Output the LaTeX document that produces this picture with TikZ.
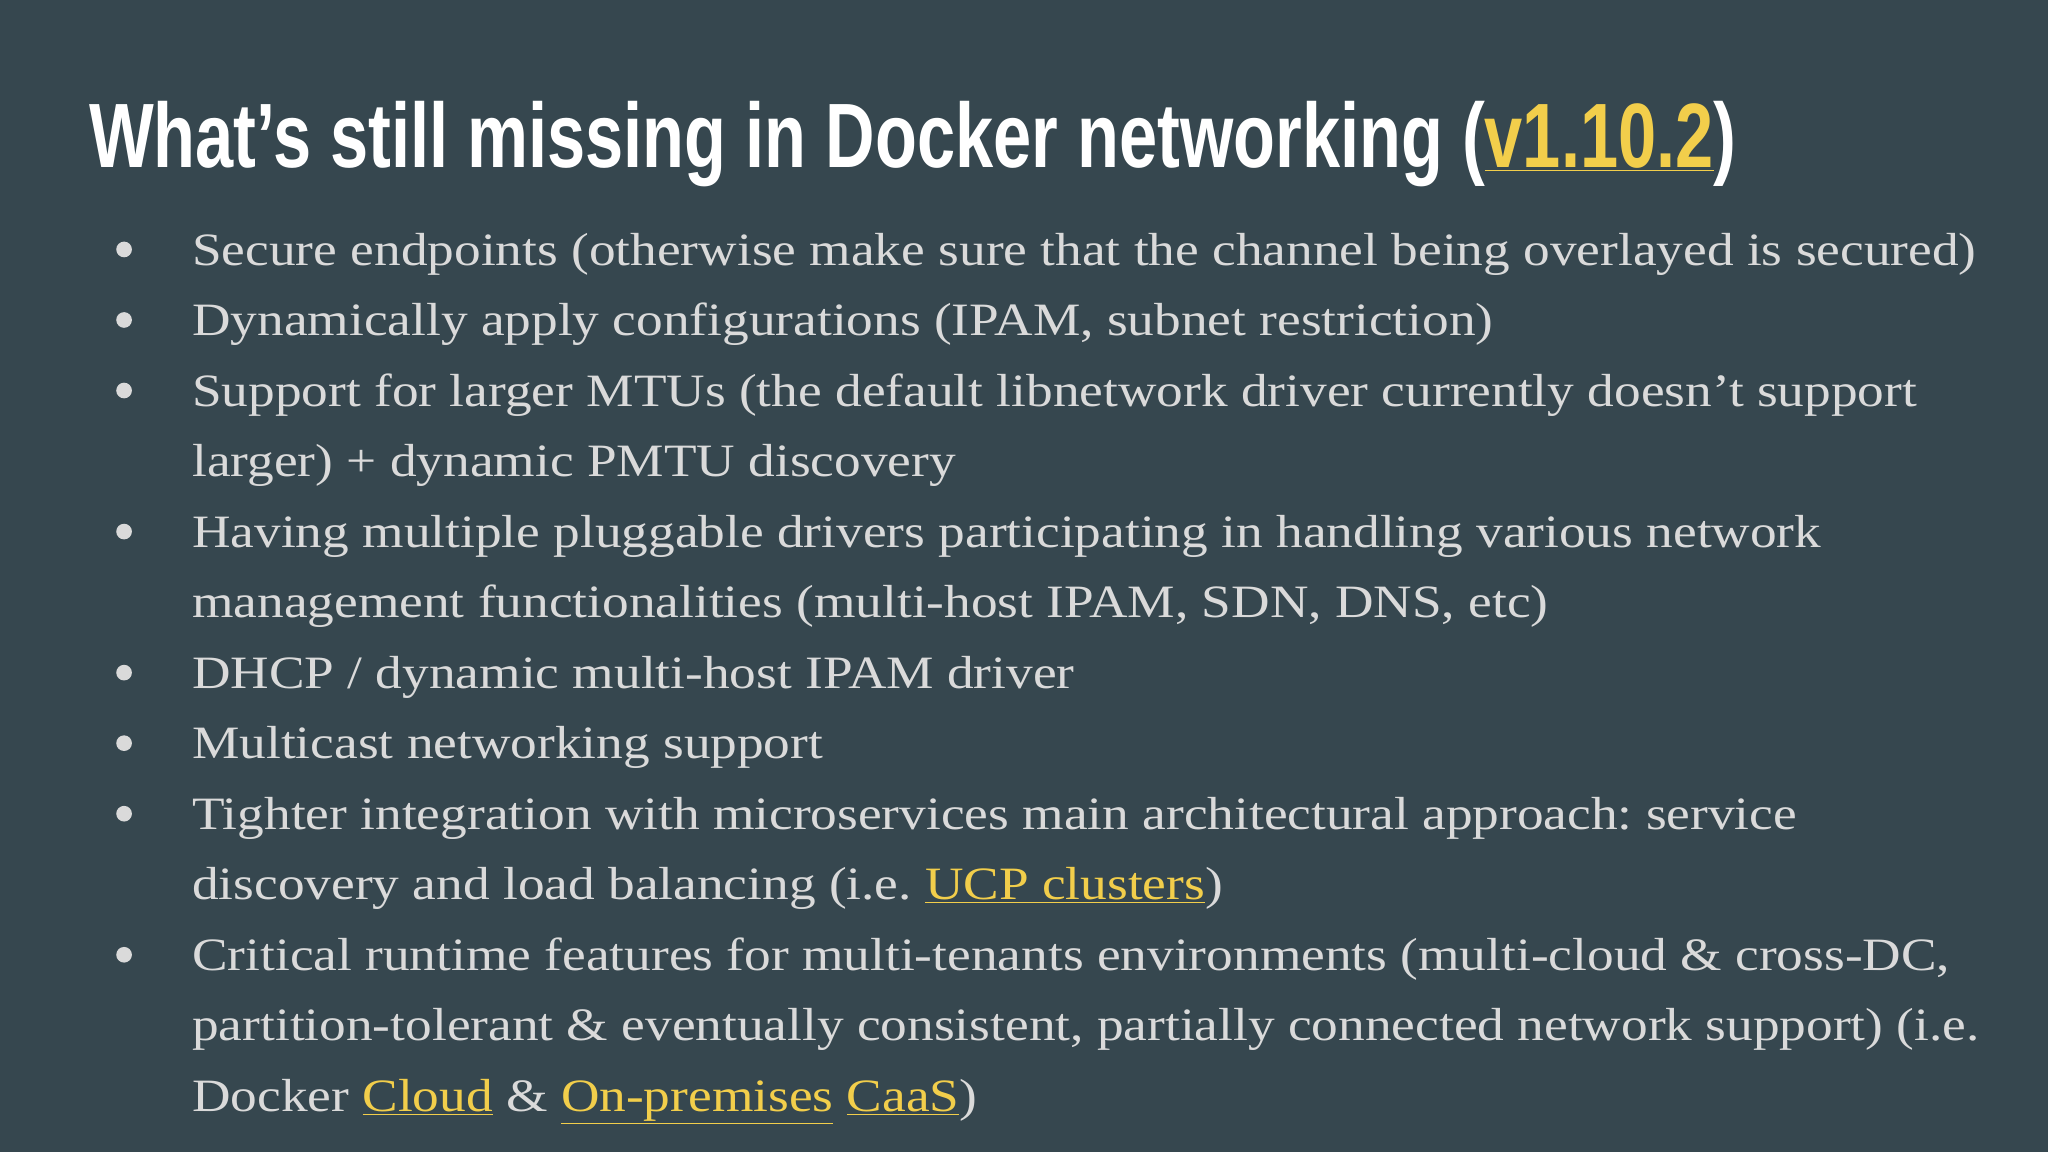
\documentclass[tikz,border=0pt]{standalone}
\usepackage{fontspec}
\setmainfont[FakeStretch=1.15]{Liberation Serif}
\newfontfamily\titlefont[FakeStretch=0.75]{Liberation Sans}
\definecolor{bg}{HTML}{36474F}
\definecolor{txt}{HTML}{DADADA}
\definecolor{lnk}{HTML}{F2CE4B}
\newcommand{\ul}[1]{{\color{lnk}\underline{#1}}}
\frenchspacing
\begin{document}
\begin{tikzpicture}[x=1pt,y=1pt,
  ln/.style={anchor=base west,inner sep=0pt,text=txt,font=\fontsize{35.5}{40}\selectfont},
  bul/.style={fill=txt,circle,inner sep=0pt,minimum size=12pt}]
\fill[bg] (0,0) rectangle (1568,882);
\useasboundingbox (0,0) rectangle (1568,882);
\node[anchor=base west,inner sep=0pt,text=white,font=\titlefont\bfseries\fontsize{70}{80}\selectfont] (title) at (68,754) {What’s still missing in Docker networking (\ul{v1.10.2})};
\foreach \y in {203,257,311,419,527,581,635,743}{\node[bul] at (95,882-\y+12) {};}
\node[ln] (l1) at (147,679) {Secure endpoints (otherwise make sure that the channel being overlayed is secured)};
\node[ln] (l2) at (147,625) {Dynamically apply configurations (IPAM, subnet restriction)};
\node[ln] (l3) at (147,571) {Support for larger MTUs (the default libnetwork driver currently doesn’t support};
\node[ln] (l4) at (147,517) {larger) + dynamic PMTU discovery};
\node[ln] (l5) at (147,463) {Having multiple pluggable drivers participating in handling various network};
\node[ln] (l6) at (147,409) {management functionalities (multi-host IPAM, SDN, DNS, etc)};
\node[ln] (l7) at (147,355) {DHCP / dynamic multi-host IPAM driver};
\node[ln] (l8) at (147,301) {Multicast networking support};
\node[ln] (l9) at (147,247) {Tighter integration with microservices main architectural approach: service};
\node[ln] (l10) at (147,193) {discovery and load balancing (i.e. \ul{UCP clusters})};
\node[ln] (l11) at (147,139) {Critical runtime features for multi-tenants environments (multi-cloud \& cross-DC,};
\node[ln] (l12) at (147,85) {partition-tolerant \& eventually consistent, partially connected network support) (i.e.};
\node[ln] (l13) at (147,31) {Docker \ul{Cloud} \& \ul{On-premises} \ul{CaaS})};
\end{tikzpicture}
\end{document}
